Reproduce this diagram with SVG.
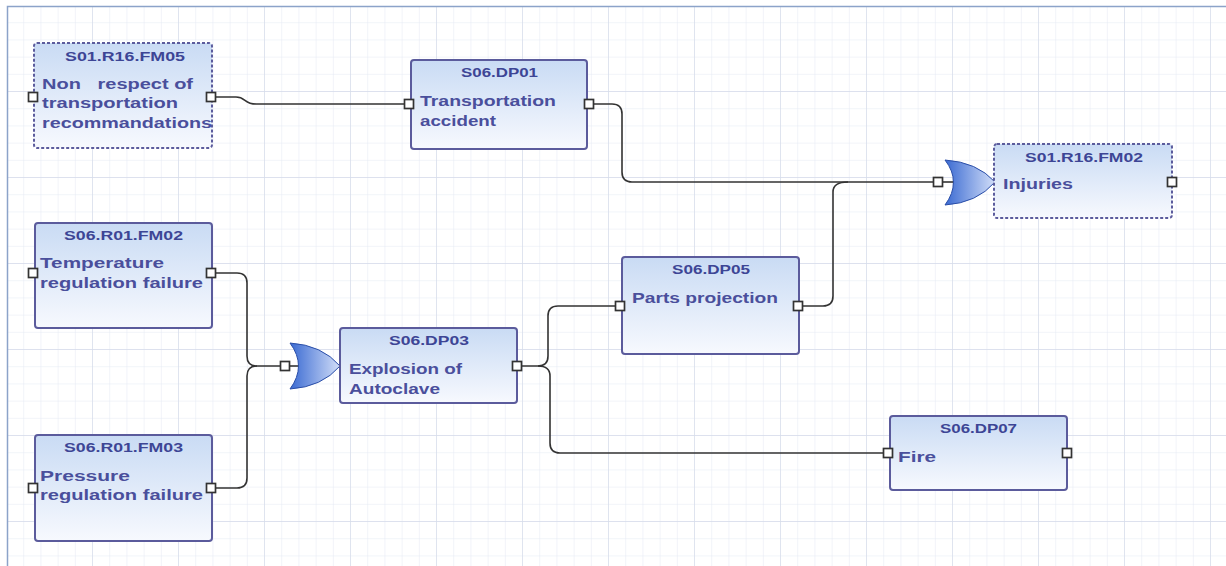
<svg xmlns="http://www.w3.org/2000/svg" width="1226" height="566" viewBox="0 0 1226 566">
<defs>
<pattern id="minor" x="7" y="6" width="17.2" height="17.2" patternUnits="userSpaceOnUse">
<path d="M17.2,0 V17.2 M0,17.2 H17.2" fill="none" stroke="#e4e9f3" stroke-width="1"/>
</pattern>
<pattern id="major" x="7" y="6" width="86" height="86" patternUnits="userSpaceOnUse">
<path d="M86,0 V86 M0,86 H86" fill="none" stroke="#d6dcea" stroke-width="1.3"/>
</pattern>
<linearGradient id="nodeFill" x1="0" y1="0" x2="0" y2="1">
<stop offset="0" stop-color="#c9dbf4"/>
<stop offset="1" stop-color="#f7f9fe"/>
</linearGradient>
<linearGradient id="gateFill" x1="0" y1="0" x2="1" y2="0">
<stop offset="0" stop-color="#3a6ad2"/>
<stop offset="1" stop-color="#d2def8"/>
</linearGradient>
<style>
.node{fill:url(#nodeFill);stroke:#5b5b9c;stroke-width:2}
.dashed{stroke-dasharray:3 2}
.port{fill:#ffffff;stroke:#333333;stroke-width:1.7}
.title{font-family:"Liberation Sans",Arial,sans-serif;font-weight:bold;font-size:13px;fill:#3d4595}
.body{font-family:"Liberation Sans",Arial,sans-serif;font-weight:bold;font-size:14.5px;fill:#4a4f9c}
.wire{fill:none;stroke:#333333;stroke-width:1.6}
.gate{fill:url(#gateFill);stroke:#2a4ea8;stroke-width:1}
</style>
</defs>
<rect x="0" y="0" width="1226" height="566" fill="#ffffff"/>
<rect x="7" y="6" width="1219" height="560" fill="url(#minor)"/>
<rect x="7" y="6" width="1219" height="560" fill="url(#major)"/>
<path d="M7.5,566 V6.5 H1226" fill="none" stroke="#8ca3c9" stroke-width="1.5"/>

<g id="connectors">
<path class="wire" d="M215,97 H236 C246,97 244,104 256,104 H405"/>
<path class="wire" d="M593,104 H612 Q622,104 622,114 V172 Q622,182 632,182 H934"/>
<path class="wire" d="M802,306 H823 Q833,306 833,296 V192 Q833,182 848,182"/>
<path class="wire" d="M215,273 H237 Q247,273 247,283 V356 Q247,366 257,366 H281"/>
<path class="wire" d="M215,488 H237 Q247,488 247,478 V376 Q247,366 257,366"/>
<path class="wire" d="M521,366 H538 Q548,366 548,356 V316 Q548,306 558,306 H616"/>
<path class="wire" d="M538,366 Q550,366 550,376 V443 Q550,453 560,453 H884"/>
<path class="wire" d="M289,366 H300"/>
<path class="wire" d="M942,182 H955"/>
</g>

<g id="S01.R16.FM05">
<rect class="node dashed" x="34" y="43" width="178" height="105" rx="3"/>
<text class="title" x="65" y="61" textLength="120" lengthAdjust="spacingAndGlyphs">S01.R16.FM05</text>
<text class="body" x="42" y="89" xml:space="preserve" textLength="151" lengthAdjust="spacingAndGlyphs">Non   respect of</text>
<text class="body" x="42" y="108" textLength="136" lengthAdjust="spacingAndGlyphs">transportation</text>
<text class="body" x="42" y="128" textLength="170" lengthAdjust="spacingAndGlyphs">recommandations</text>
<rect class="port" x="28.5" y="92.5" width="9" height="9"/>
<rect class="port" x="206.5" y="92.5" width="9" height="9"/>
</g>

<g id="S06.DP01">
<rect class="node" x="411" y="60" width="176" height="89" rx="3"/>
<text class="title" x="461" y="77" textLength="77" lengthAdjust="spacingAndGlyphs">S06.DP01</text>
<text class="body" x="420" y="106" textLength="136" lengthAdjust="spacingAndGlyphs">Transportation</text>
<text class="body" x="420" y="126" textLength="76" lengthAdjust="spacingAndGlyphs">accident</text>
<rect class="port" x="404.5" y="99.5" width="9" height="9"/>
<rect class="port" x="584.5" y="99.5" width="9" height="9"/>
</g>

<g id="gate-injuries">
<path class="gate" d="M945,160 Q977,162 995,182 Q977,203 945,205 Q962,182 945,160 Z"/>
<rect class="port" x="933.5" y="177.5" width="9" height="9"/>
</g>

<g id="S01.R16.FM02">
<rect class="node dashed" x="994" y="144" width="178" height="74" rx="3"/>
<text class="title" x="1025" y="162" textLength="118" lengthAdjust="spacingAndGlyphs">S01.R16.FM02</text>
<text class="body" x="1003" y="189" textLength="70" lengthAdjust="spacingAndGlyphs">Injuries</text>
<rect class="port" x="1167.5" y="177.5" width="9" height="9"/>
</g>

<g id="S06.R01.FM02">
<rect class="node" x="35" y="223" width="177" height="105" rx="3"/>
<text class="title" x="64" y="240" textLength="119" lengthAdjust="spacingAndGlyphs">S06.R01.FM02</text>
<text class="body" x="40" y="268" textLength="124" lengthAdjust="spacingAndGlyphs">Temperature</text>
<text class="body" x="40" y="288" textLength="163" lengthAdjust="spacingAndGlyphs">regulation failure</text>
<rect class="port" x="28.5" y="268.5" width="9" height="9"/>
<rect class="port" x="206.5" y="268.5" width="9" height="9"/>
</g>

<g id="S06.R01.FM03">
<rect class="node" x="35" y="435" width="177" height="106" rx="3"/>
<text class="title" x="64" y="452" textLength="119" lengthAdjust="spacingAndGlyphs">S06.R01.FM03</text>
<text class="body" x="40" y="481" textLength="90" lengthAdjust="spacingAndGlyphs">Pressure</text>
<text class="body" x="40" y="500" textLength="163" lengthAdjust="spacingAndGlyphs">regulation failure</text>
<rect class="port" x="28.5" y="483.5" width="9" height="9"/>
<rect class="port" x="206.5" y="483.5" width="9" height="9"/>
</g>

<g id="gate-explosion">
<path class="gate" d="M290,343 Q322,345 340,366 Q322,387 290,389 Q307,366 290,343 Z"/>
<rect class="port" x="280.5" y="361.5" width="9" height="9"/>
</g>

<g id="S06.DP03">
<rect class="node" x="340" y="328" width="177" height="75" rx="3"/>
<text class="title" x="389" y="345" textLength="80" lengthAdjust="spacingAndGlyphs">S06.DP03</text>
<text class="body" x="349" y="374" textLength="113" lengthAdjust="spacingAndGlyphs">Explosion of</text>
<text class="body" x="349" y="394" textLength="91" lengthAdjust="spacingAndGlyphs">Autoclave</text>
<rect class="port" x="512.5" y="361.5" width="9" height="9"/>
</g>

<g id="S06.DP05">
<rect class="node" x="622" y="257" width="177" height="97" rx="3"/>
<text class="title" x="672" y="274" textLength="78" lengthAdjust="spacingAndGlyphs">S06.DP05</text>
<text class="body" x="632" y="303" textLength="146" lengthAdjust="spacingAndGlyphs">Parts projection</text>
<rect class="port" x="615.5" y="301.5" width="9" height="9"/>
<rect class="port" x="793.5" y="301.5" width="9" height="9"/>
</g>

<g id="S06.DP07">
<rect class="node" x="890" y="416" width="177" height="74" rx="3"/>
<text class="title" x="940" y="433" textLength="77" lengthAdjust="spacingAndGlyphs">S06.DP07</text>
<text class="body" x="898" y="462" textLength="38" lengthAdjust="spacingAndGlyphs">Fire</text>
<rect class="port" x="883.5" y="448.5" width="9" height="9"/>
<rect class="port" x="1062.5" y="448.5" width="9" height="9"/>
</g>
</svg>
